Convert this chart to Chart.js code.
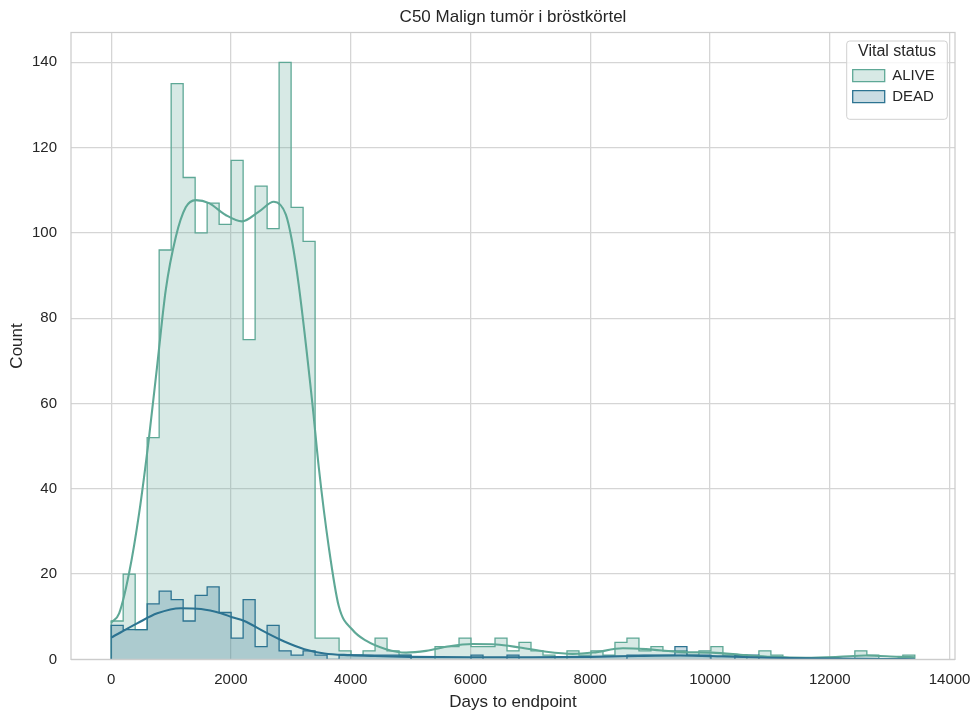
<!DOCTYPE html>
<html>
<head>
<meta charset="utf-8">
<script src="https://cdn.jsdelivr.net/npm/chart.js@4"></script>
<style>html,body{margin:0;padding:0;background:#fff;}canvas{display:block;}</style>
</head>
<body>
<canvas id="c" width="973" height="711"></canvas>
<script>
// ---------------- data ----------------
const categories = ['ALIVE', 'DEAD'];
const binStart = 0;
const binWidth = 200.3;
const aliveCounts = [9, 20, 7, 52, 96, 135, 113, 100, 107, 102, 117, 75, 111, 101, 140, 106, 98, 5, 5, 2,
  1, 2, 5, 2, 1, 0, 0, 3, 3, 5, 3, 3, 5, 2, 4, 2, 1, 0, 2, 1,
  2, 1, 4, 5, 2, 3, 2, 2, 1, 2, 3, 1, 1, 0, 2, 1, 0, 0, 0, 0,
  0, 0, 2, 1, 0, 0, 1];
const deadCounts = [8, 7, 7, 13, 16, 14, 9, 15, 17, 11, 5, 14, 3, 8, 2, 1, 2, 1, 0, 1,
  1, 1, 1, 1, 1, 0, 0, 0, 0, 0, 1, 0, 0, 1, 0, 0, 0, 0, 0, 0,
  0, 0, 0, 1, 1, 1, 1, 3, 1, 1, 0, 0, 1, 1, 0, 0, 0, 0, 0, 0,
  0, 0, 0, 0, 0, 0, 0];
const aliveKdeX = [0, 133, 300, 467, 633, 773, 911, 1078, 1245, 1411, 1634, 1912, 2183, 2467, 2717, 2917, 3017, 3130, 3360, 3467, 3633, 3800, 4033, 4256, 4590, 4924, 5258, 5650, 6033, 6430, 6819, 7265, 7708, 8048, 8545, 8933, 9533, 10033, 10590, 11033, 11600, 12150, 12600, 13150, 13420];
const aliveKdeY = [8.6, 10.8, 20.3, 34.3, 52.2, 69.5, 86.6, 99, 106, 107.7, 107, 104.2, 102.7, 105, 107.3, 104.3, 98.3, 88, 60, 45, 26.4, 12.5, 6.9, 4.4, 2.4, 1.6, 2.0, 3.1, 3.6, 3.5, 2.8, 1.8, 1.3, 1.6, 2.6, 2.4, 1.7, 1.6, 1.0, 0.6, 0.4, 0.6, 0.9, 0.6, 0.5];
const deadKdeX = [0, 440, 770, 1160, 1500, 1833, 2020, 2223, 2557, 2891, 3226, 3560, 3990, 4400, 5000, 6000, 7000, 8000, 8800, 9500, 10200, 11000, 12000, 13000, 13420];
const deadKdeY = [5.1, 8.5, 10.8, 12, 11.8, 10.8, 9.9, 9.0, 6.5, 4.2, 2.4, 1.4, 1.0, 0.8, 0.6, 0.5, 0.5, 0.6, 0.8, 0.9, 0.7, 0.4, 0.2, 0.1, 0.05];
const xTicks = [0, 2000, 4000, 6000, 8000, 10000, 12000, 14000];
const xTickLabels = ['0', '2000', '4000', '6000', '8000', '10000', '12000', '14000'];
const yTicks = [0, 20, 40, 60, 80, 100, 120, 140];
const yTickLabels = ['0', '20', '40', '60', '80', '100', '120', '140'];

// ---------------- styling ----------------
const FONT = '"Liberation Sans", Arial, Helvetica, sans-serif';
const TEXT = '#262626';
const GRID = '#d5d5d5';
const colors = { ALIVE: '#5ea896', DEAD: '#2c7391' };
const fills = { ALIVE: 'rgba(94,168,150,0.25)', DEAD: 'rgba(44,115,145,0.25)' };

function stepPoints(counts) {
  const pts = [{ x: binStart, y: 0 }];
  counts.forEach((c, i) => {
    pts.push({ x: binStart + i * binWidth, y: c });
    pts.push({ x: binStart + (i + 1) * binWidth, y: c });
  });
  pts.push({ x: binStart + counts.length * binWidth, y: 0 });
  return pts;
}
function zip(xs, ys) { return xs.map((x, i) => ({ x: x, y: ys[i] })); }

const histCounts = { ALIVE: aliveCounts, DEAD: deadCounts };
const kdes = { ALIVE: zip(aliveKdeX, aliveKdeY), DEAD: zip(deadKdeX, deadKdeY) };

const datasets = [];
categories.forEach((cat, k) => {
  datasets.push({
    label: cat,
    data: stepPoints(histCounts[cat]),
    borderColor: colors[cat],
    backgroundColor: fills[cat],
    borderWidth: 1.3,
    fill: 'origin',
    pointRadius: 0,
    tension: 0,
    order: 3 - k
  });
});
categories.forEach((cat, k) => {
  datasets.push({
    label: cat + ' kde',
    data: kdes[cat],
    borderColor: colors[cat],
    backgroundColor: colors[cat],
    borderWidth: 2.1,
    fill: false,
    pointRadius: 0,
    cubicInterpolationMode: 'monotone',
    order: 1 - k
  });
});

// plot frame (all four spines)
const framePlugin = {
  id: 'frame',
  afterDatasetsDraw(chart) {
    const { ctx, chartArea: a } = chart;
    ctx.save();
    ctx.strokeStyle = '#cccccc';
    ctx.lineWidth = 1.25;
    ctx.strokeRect(a.left, a.top, a.right - a.left, a.bottom - a.top);
    ctx.restore();
  }
};

// legend inside the plot (top-right, framed); title centred over the axes
const LEG = { rightGap: 7.7, topGap: 8.5, w: 100.6, h: 78.3 };
const placement = {
  id: 'placement',
  beforeUpdate(chart) {
    const lg = chart.legend;
    if (lg && !lg._inPlot) {
      lg._inPlot = true;
      lg._layers = function () {
        return [{
          z: 10,
          draw(area) {
            const ctx = chart.ctx;
            ctx.save();
            ctx.beginPath();
            ctx.roundRect(lg.left, lg.top, lg.width, lg.height, 3);
            ctx.fillStyle = 'rgba(255,255,255,0.8)';
            ctx.fill();
            ctx.strokeStyle = '#d0d0d0';
            ctx.lineWidth = 1;
            ctx.stroke();
            ctx.restore();
            lg.draw(area);
          }
        }];
      };
    }
  },
  afterLayout(chart) {
    const a = chart.chartArea;
    const lg = chart.legend;
    lg.width = LEG.w; lg.height = LEG.h;
    lg.right = a.right - LEG.rightGap;
    lg.left = lg.right - LEG.w;
    lg.top = a.top + LEG.topGap;
    lg.bottom = lg.top + LEG.h;
    const tb = chart.titleBlock;
    if (tb) { tb.left = a.left; tb.right = a.right; tb.width = a.right - a.left; }
  }
};

new Chart(document.getElementById('c'), {
  type: 'line',
  data: { datasets: datasets },
  options: {
    responsive: false,
    animation: false,
    devicePixelRatio: 1,
    layout: { padding: { left: 0, right: 18, top: 0, bottom: 0 } },
    plugins: {
      title: {
        display: true,
        text: 'C50 Malign tumör i bröstkörtel',
        color: TEXT,
        font: { family: FONT, size: 17, weight: 'normal', lineHeight: 1.2 },
        padding: { top: 6.9, bottom: 5.2 }
      },
      legend: {
        display: true,
        position: 'chartArea',
        align: 'start',
        labels: {
          filter: (item) => item.datasetIndex < 2,
          sort: (a, b) => a.datasetIndex - b.datasetIndex,
          boxWidth: 32,
          boxHeight: 12,
          padding: 6,
          color: TEXT,
          font: { family: FONT, size: 15 }
        },
        title: {
          display: true,
          text: 'Vital status',
          color: TEXT,
          font: { family: FONT, size: 16 },
          padding: { top: 3, bottom: -1 }
        }
      },
      tooltip: { enabled: false }
    },
    scales: {
      x: {
        type: 'linear',
        min: -671,
        max: 14091,
        afterBuildTicks(scale) { scale.ticks = xTicks.map(v => ({ value: v })); },
        afterFit(scale) { scale.height = 51.6; scale.paddingLeft = 0; scale.paddingRight = 0; },
        ticks: {
          padding: 11, color: TEXT, font: { family: FONT, size: 15 }, maxRotation: 0, autoSkip: false,
          callback: (v) => { const i = xTicks.indexOf(v); return i >= 0 ? xTickLabels[i] : ''; }
        },
        grid: { color: GRID, lineWidth: 1.3, drawTicks: false },
        border: { display: false },
        title: { display: true, text: 'Days to endpoint', color: TEXT, font: { family: FONT, size: 17, lineHeight: 1 }, padding: { top: 0, bottom: 0 } }
      },
      y: {
        type: 'linear',
        min: 0,
        max: 147,
        afterBuildTicks(scale) { scale.ticks = yTicks.map(v => ({ value: v })); },
        afterFit(scale) { scale.width = 71; scale.paddingTop = 0; scale.paddingBottom = 0; },
        ticks: {
          padding: 14, color: TEXT, font: { family: FONT, size: 15 }, autoSkip: false,
          callback: (v) => { const i = yTicks.indexOf(v); return i >= 0 ? yTickLabels[i] : ''; }
        },
        grid: { color: GRID, lineWidth: 1.3, drawTicks: false },
        border: { display: false },
        title: { display: true, text: 'Count', color: TEXT, font: { family: FONT, size: 17, lineHeight: 1 }, padding: { top: 8.5, bottom: 0 } }
      }
    }
  },
  plugins: [framePlugin, placement]
});
</script>
</body>
</html>
